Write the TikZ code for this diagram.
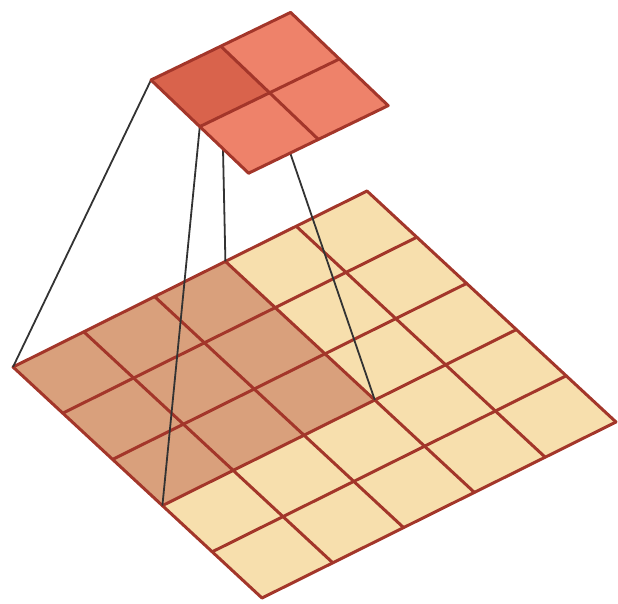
\documentclass[tikz,border=0pt]{standalone}
\begin{document}
\begin{tikzpicture}[
  cellborder/.style={draw=gridred, line width=3pt, line join=round, line cap=round},
  connector/.style={draw=black!80, line width=1.8pt}
]
\definecolor{lightcell}{HTML}{F7DFAD}
\definecolor{fieldcell}{HTML}{D9A07C}
\definecolor{outdark}{HTML}{D9634C}
\definecolor{outlight}{HTML}{EE826A}
\definecolor{gridred}{HTML}{A3362A}
\useasboundingbox (0pt,0pt) rectangle (618pt,-603pt);
% bottom (input) grid
\begin{scope}[shift={(13pt,-367pt)}, x={(70.8pt,35.2pt)}, y={(49.8pt,-46.2pt)}]
  \foreach \i in {0,...,5} \foreach \j in {0,...,5} \coordinate (b-\i-\j) at (\i,\j);
\end{scope}
\fill[lightcell] (b-0-0) -- (b-5-0) -- (b-5-5) -- (b-0-5) -- cycle;
\fill[fieldcell] (b-0-0) -- (b-3-0) -- (b-3-3) -- (b-0-3) -- cycle;
\foreach \k in {0,...,5} {
  \draw[cellborder] (b-\k-0) -- (b-\k-5);
  \draw[cellborder] (b-0-\k) -- (b-5-\k);
}
% top (output) grid coordinates
\begin{scope}[shift={(151pt,-80pt)}, x={(69.8pt,33.8pt)}, y={(48.8pt,-46.6pt)}]
  \foreach \i in {0,...,2} \foreach \j in {0,...,2} \coordinate (t-\i-\j) at (\i,\j);
\end{scope}
% connectors
\draw[connector] (t-0-0) -- (b-0-0);
\draw[connector] (t-1-0) -- (b-3-0);
\draw[connector] (t-0-1) -- (b-0-3);
\draw[connector] (t-1-1) -- (b-3-3);
% top grid
\fill[outlight] (t-0-0) -- (t-2-0) -- (t-2-2) -- (t-0-2) -- cycle;
\fill[outdark] (t-0-0) -- (t-1-0) -- (t-1-1) -- (t-0-1) -- cycle;
\foreach \k in {0,1,2} {
  \draw[cellborder] (t-\k-0) -- (t-\k-2);
  \draw[cellborder] (t-0-\k) -- (t-2-\k);
}
\end{tikzpicture}
\end{document}
